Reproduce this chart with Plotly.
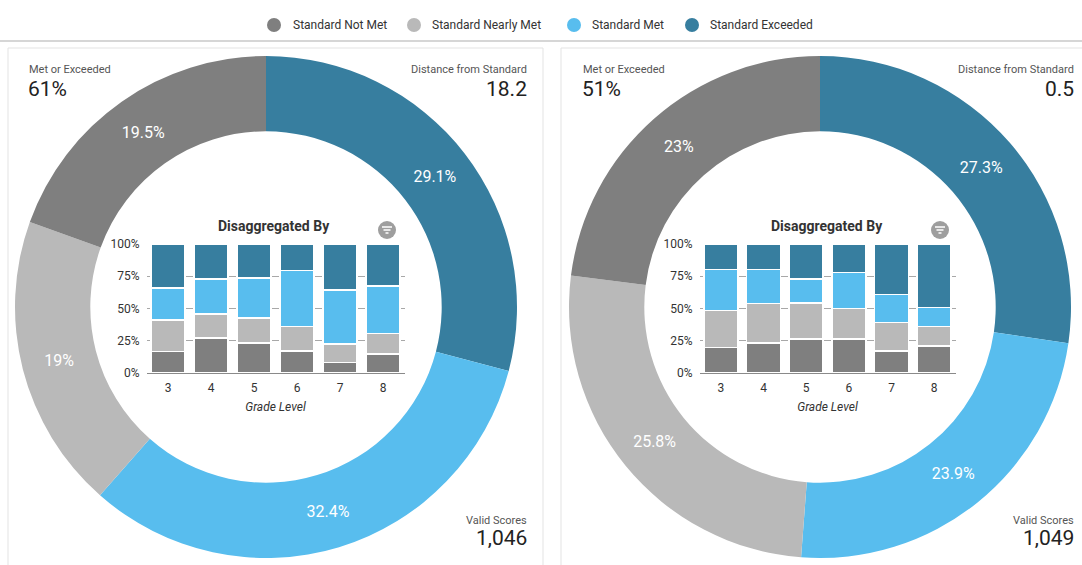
import plotly.graph_objects as go

W, H = 1082, 565
FONT = "Roboto"

# ---- data -----------------------------------------------------------------
levels = ["Standard Not Met", "Standard Nearly Met", "Standard Met", "Standard Exceeded"]
colors = ["#7f7f7f", "#b9b9b9", "#58bdee", "#377e9f"]
grades = ["3", "4", "5", "6", "7", "8"]

# overall distribution per panel (percent)
left_overall = [19.5, 19.0, 32.4, 29.1]
right_overall = [23.0, 25.8, 23.9, 27.3]

# per-grade distribution (percent), one list per performance level
left_not_met = [16.5, 27.0, 23.2, 17.0, 8.2, 14.7]
left_nearly = [24.5, 18.6, 19.3, 19.0, 14.2, 16.0]
left_met = [25.0, 27.1, 31.0, 43.6, 41.8, 36.6]
left_exceeded = [34.0, 27.3, 26.5, 20.4, 35.8, 32.7]

right_not_met = [19.8, 23.2, 26.5, 26.3, 17.0, 21.1]
right_nearly = [28.7, 30.7, 27.9, 23.7, 22.2, 15.0]
right_met = [31.7, 26.3, 18.3, 27.8, 21.6, 14.7]
right_exceeded = [19.8, 19.8, 27.3, 22.2, 39.2, 49.2]

left_stats = {"met_or_exceeded": "61%", "distance": "18.2", "valid": "1,046"}
right_stats = {"met_or_exceeded": "51%", "distance": "0.5", "valid": "1,049"}

y_ticks = [0, 25, 50, 75, 100]
y_ticktext = [f"{v}%" for v in y_ticks]


# ---- helpers: pixel -> paper ---------------------------------------------
def px(x):
    return x / W


def py(y):
    return 1 - y / H


fig = go.Figure()

# donut order clockwise from 12 o'clock: Exceeded, Met, Nearly Met, Not Met
pie_order = [3, 2, 1, 0]


def add_donut(values, cx):
    r = 251
    cy = 307
    vals = [values[i] for i in pie_order]
    fig.add_trace(go.Pie(
        labels=[levels[i] for i in pie_order],
        values=vals,
        text=[f"{v:g}%" for v in vals],
        textinfo="text",
        textposition="inside",
        insidetextorientation="horizontal",
        textfont=dict(family=FONT, size=16, color="white"),
        marker=dict(colors=[colors[i] for i in pie_order], line=dict(width=0)),
        hole=0.70,
        sort=False,
        direction="clockwise",
        rotation=0,
        showlegend=False,
        automargin=False,
        domain=dict(x=[px(cx - r), px(cx + r)], y=[py(cy + r), py(cy - r)]),
    ))


add_donut(left_overall, 266)
add_donut(right_overall, 820)


def add_bars(series, xa, ya):
    for name, col, vals in zip(levels, colors, series):
        fig.add_trace(go.Bar(
            x=grades, y=vals, name=name,
            marker=dict(color=col, line=dict(color="white", width=1.5)),
            xaxis=xa, yaxis=ya, showlegend=False,
        ))


add_bars([left_not_met, left_nearly, left_met, left_exceeded], "x", "y")
add_bars([right_not_met, right_nearly, right_met, right_exceeded], "x2", "y2")

axis_font = dict(family=FONT, size=12, color="#333333")
ydom = [py(373), py(244)]


def xaxis_cfg(x0, x1):
    return dict(
        domain=[px(x0), px(x1)], type="category", showgrid=False,
        showline=True, linecolor="#8a8a8a", linewidth=1,
        ticks="", tickfont=axis_font, automargin=False, ticklabelstandoff=4,
        title=dict(text="<i>Grade Level</i>", font=axis_font, standoff=8),
    )


def yaxis_cfg(anchor):
    return dict(
        domain=ydom, range=[0, 100], tickvals=y_ticks, ticktext=y_ticktext,
        tickfont=axis_font, showgrid=True, gridcolor="#a8a8a8", gridwidth=1,
        zeroline=False, showline=False, anchor=anchor, ticks="",
        ticklabelstandoff=6, automargin=False,
    )


fig.update_layout(
    xaxis=xaxis_cfg(146.5, 404.5),
    yaxis=yaxis_cfg("x"),
    xaxis2=dict(xaxis_cfg(699.5, 955.5), anchor="y2"),
    yaxis2=yaxis_cfg("x2"),
)

shapes = []
annotations = []

# top legend strip with drop shadow
shapes.append(dict(type="rect", xref="paper", yref="paper", x0=0, x1=1,
                   y0=py(42), y1=py(40), fillcolor="#d6d6d6", line=dict(width=0),
                   layer="below"))
shapes.append(dict(type="rect", xref="paper", yref="paper", x0=0, x1=1,
                   y0=py(40), y1=1, fillcolor="white", line=dict(width=0),
                   layer="below"))

legend_pos = [(274, 291), (414, 430), (574, 590), (692, 708)]
for (cxl, tx), name, col in zip(legend_pos, levels, colors):
    shapes.append(dict(type="circle", xref="paper", yref="paper",
                       x0=px(cxl - 7), x1=px(cxl + 7), y0=py(25 + 7), y1=py(25 - 7),
                       fillcolor=col, line=dict(width=0)))
    annotations.append(dict(text=name, x=px(tx), y=py(25), xref="paper", yref="paper",
                            xanchor="left", yanchor="middle", showarrow=False,
                            font=dict(family=FONT, size=12, color="#333333")))

# cards
for x0, x1 in [(8, 543), (561, 1090)]:
    shapes.append(dict(type="rect", xref="paper", yref="paper",
                       x0=px(x0), x1=px(x1), y0=py(575), y1=py(48),
                       fillcolor="white", line=dict(color="#e3e3e3", width=1),
                       layer="below"))


def card_text(stats, left_x, right_x, filter_x):
    small = dict(family=FONT, size=11, color="#555555")
    big = dict(family=FONT, size=21, color="#222222")
    items = [
        ("Met or Exceeded", left_x, 70, "left", small),
        (stats["met_or_exceeded"], left_x - 1, 89, "left", big),
        ("Distance from Standard", right_x, 70, "right", small),
        (stats["distance"], right_x, 89, "right", big),
        ("Valid Scores", right_x, 520, "right", small),
        (stats["valid"], right_x, 538, "right", big),
    ]
    for t, x, y, anchor, f in items:
        annotations.append(dict(text=t, x=px(x), y=py(y), xref="paper", yref="paper",
                                xanchor=anchor, yanchor="middle", showarrow=False, font=f))
    annotations.append(dict(text="<b>Disaggregated By</b>", x=px(filter_x - 113), y=py(226),
                            xref="paper", yref="paper", xanchor="center", yanchor="middle",
                            showarrow=False,
                            font=dict(family=FONT, size=14, color="#333333")))
    # filter icon
    fy = 230
    shapes.append(dict(type="circle", xref="paper", yref="paper",
                       x0=px(filter_x - 9), x1=px(filter_x + 9), y0=py(fy + 9), y1=py(fy - 9),
                       fillcolor="#9e9e9e", line=dict(width=0)))
    for dy, half in [(-3, 5), (0, 3.5), (3, 1.5)]:
        shapes.append(dict(type="line", xref="paper", yref="paper",
                           x0=px(filter_x - half), x1=px(filter_x + half),
                           y0=py(fy + dy), y1=py(fy + dy),
                           line=dict(color="white", width=1.5)))


card_text(left_stats, 27, 529, 387)
card_text(right_stats, 581, 1076, 940)

fig.update_layout(
    width=W, height=H,
    margin=dict(l=0, r=0, t=0, b=0, pad=0, autoexpand=False),
    paper_bgcolor="white", plot_bgcolor="rgba(0,0,0,0)",
    barmode="stack", bargap=0.2,
    shapes=shapes, annotations=annotations,
    font=dict(family=FONT),
    showlegend=False,
)

fig.write_html("out.html", config={"displayModeBar": False})
